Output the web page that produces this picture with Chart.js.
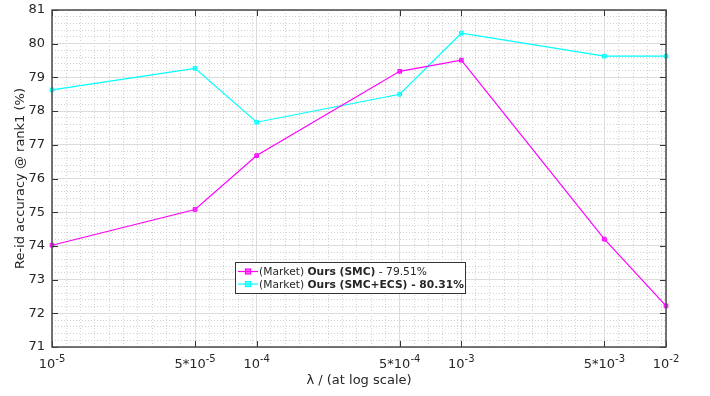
<!DOCTYPE html>
<html>
<head>
<meta charset="utf-8">
<script src="https://cdn.jsdelivr.net/npm/chart.js@4.4.1/dist/chart.umd.min.js"></script>
<style>
  html, body { margin: 0; padding: 0; background: #fff; }
  #wrap { width: 710px; height: 396px; }
</style>
</head>
<body>
<div id="wrap"><canvas id="chart"></canvas></div>
<script>
// lambda values (log axis) and rank-1 accuracy for both variants
const lambdaValues = [1e-5, 5e-5, 1e-4, 5e-4, 1e-3, 5e-3, 1e-2];
const smcAccuracy = [74.02, 75.08, 76.68, 79.18, 79.51, 74.20, 72.22];
const smcEcsAccuracy = [78.63, 79.27, 77.67, 78.50, 80.31, 79.63, 79.63];

// x tick labels: mantissa prefix + power of ten
const xTickMantissa = ['', '5*', '', '5*', '', '5*', ''];
const xTickExponent = ['-5', '-5', '-4', '-4', '-3', '-3', '-2'];

const yMin = 71, yMax = 81;

const FONT = '"DejaVu Sans", sans-serif';
const TEXT = '#262626';

const legendRows = [
  { color: '#ff00ff', parts: [['(Market) ', false], ['Ours (SMC)', true], [' - 79.51%', false]] },
  { color: '#00ffff', parts: [['(Market) ', false], ['Ours (SMC+ECS) - 80.31%', true]] }
];

function isMajorX(v) {
  return lambdaValues.some(m => Math.abs(Math.log10(v) - Math.log10(m)) < 1e-6);
}
function isMajorY(v) {
  return Math.abs(v - Math.round(v)) < 1e-6;
}

// minor grid: even steps in log space starting at each major tick
function buildXTicks() {
  const out = [];
  const step = 0.07;
  for (let i = 0; i < lambdaValues.length; i++) {
    out.push({ value: lambdaValues[i] });
    if (i === lambdaValues.length - 1) break;
    const a = Math.log10(lambdaValues[i]), b = Math.log10(lambdaValues[i + 1]);
    for (let l = a + step; l < b - 0.02; l += step) out.push({ value: Math.pow(10, l) });
  }
  return out;
}
function buildYTicks() {
  const out = [];
  for (let k = 0; k <= (yMax - yMin) * 5; k++) out.push({ value: Math.round((yMin + k * 0.2) * 10) / 10 });
  return out;
}

const matlabAxes = {
  id: 'matlabAxes',
  afterDatasetsDraw(chart) {
    const ctx = chart.ctx;
    const { left, right, top, bottom } = chart.chartArea;
    const xs = chart.scales.x, ys = chart.scales.y;
    ctx.save();

    // inward tick marks on all four sides
    ctx.strokeStyle = '#333';
    ctx.lineWidth = 1;
    ctx.beginPath();
    lambdaValues.forEach(v => {
      const px = Math.round(xs.getPixelForValue(v)) + 0.5;
      ctx.moveTo(px, bottom); ctx.lineTo(px, bottom - 6);
      ctx.moveTo(px, top); ctx.lineTo(px, top + 6);
    });
    for (let v = yMin; v <= yMax; v++) {
      const py = Math.round(ys.getPixelForValue(v)) + 0.5;
      ctx.moveTo(left, py); ctx.lineTo(left + 6, py);
      ctx.moveTo(right, py); ctx.lineTo(right - 6, py);
    }
    ctx.stroke();

    // box
    ctx.strokeStyle = '#4a4a4a';
    ctx.lineWidth = 1.5;
    ctx.strokeRect(left, top, right - left, bottom - top);

    // x tick labels with superscript exponents
    ctx.fillStyle = TEXT;
    ctx.textBaseline = 'alphabetic';
    lambdaValues.forEach((v, i) => {
      const px = xs.getPixelForValue(v);
      const base = xTickMantissa[i] + '10';
      ctx.font = '13px ' + FONT;
      const wb = ctx.measureText(base).width;
      ctx.font = '10px ' + FONT;
      const we = ctx.measureText(xTickExponent[i]).width;
      const x0 = px - (wb + we) / 2;
      ctx.font = '13px ' + FONT;
      ctx.textAlign = 'left';
      ctx.fillText(base, x0, bottom + 21);
      ctx.font = '10px ' + FONT;
      ctx.fillText(xTickExponent[i], x0 + wb, bottom + 15);
    });

    // axis titles
    ctx.font = '13px ' + FONT;
    ctx.textAlign = 'center';
    ctx.textBaseline = 'middle';
    ctx.fillText('\u03bb / (at log scale)', (left + right) / 2, bottom + 34);
    ctx.save();
    ctx.translate(21, (top + bottom) / 2);
    ctx.rotate(-Math.PI / 2);
    ctx.fillText('Re-id accuracy @ rank1 (%)', 0, 0);
    ctx.restore();

    // legend box
    const bx = 235, by = 262, bw = 230, bh = 31;
    ctx.fillStyle = '#fff';
    ctx.fillRect(bx, by, bw, bh);
    ctx.strokeStyle = '#333';
    ctx.lineWidth = 1;
    ctx.strokeRect(bx + 0.5, by + 0.5, bw, bh);
    legendRows.forEach((row, r) => {
      const cy = by + 9.5 + r * 12.6;
      ctx.strokeStyle = row.color;
      ctx.lineWidth = 1.2;
      ctx.beginPath();
      ctx.moveTo(bx + 3, cy); ctx.lineTo(bx + 23, cy);
      ctx.stroke();
      ctx.fillStyle = row.color;
      ctx.globalAlpha = 0.6;
      ctx.fillRect(bx + 10.5, cy - 2.5, 5, 5);
      ctx.globalAlpha = 1;
      ctx.strokeRect(bx + 10.5, cy - 2.5, 5, 5);
      let tx = bx + 24;
      ctx.fillStyle = TEXT;
      ctx.textAlign = 'left';
      ctx.textBaseline = 'middle';
      row.parts.forEach(([s, bold]) => {
        ctx.font = (bold ? 'bold ' : '') + '10.7px ' + FONT;
        ctx.fillText(s, tx, cy + 1);
        tx += ctx.measureText(s).width;
      });
    });
    ctx.restore();
  }
};

const lineStyle = (label, data, color) => ({
  label: label,
  data: data,
  borderColor: color,
  backgroundColor: color + '99',
  borderWidth: 1.2,
  pointStyle: 'rect',
  pointRadius: 2.6,
  pointBorderWidth: 1,
  pointBorderColor: color,
  tension: 0,
  clip: false
});

new Chart(document.getElementById('chart'), {
  type: 'line',
  data: {
    datasets: [
      lineStyle('(Market) Ours (SMC) - 79.51%', lambdaValues.map((x, i) => ({ x: x, y: smcAccuracy[i] })), '#ff00ff'),
      lineStyle('(Market) Ours (SMC+ECS) - 80.31%', lambdaValues.map((x, i) => ({ x: x, y: smcEcsAccuracy[i] })), '#00ffff')
    ]
  },
  options: {
    responsive: true,
    maintainAspectRatio: false,
    animation: false,
    layout: { padding: { top: 10, right: 44, left: 0, bottom: 0 } },
    plugins: { legend: { display: false }, tooltip: { enabled: false } },
    scales: {
      x: {
        type: 'logarithmic',
        min: 1e-5,
        max: 1e-2,
        afterBuildTicks: s => { s.ticks = buildXTicks(); },
        afterFit: s => { s.height = 49; s.paddingLeft = 0; s.paddingRight = 0; },
        ticks: { display: false },
        grid: {
          drawTicks: false,
          color: c => isMajorX(c.tick.value) ? '#dcdcdc' : '#d2d2d2',
          lineWidth: 1
        },
        border: {
          display: false,
          dash: c => (c.tick && isMajorX(c.tick.value)) ? [] : [1, 2]
        }
      },
      y: {
        type: 'linear',
        min: yMin,
        max: yMax,
        afterBuildTicks: s => { s.ticks = buildYTicks(); },
        afterFit: s => { s.width = 52; s.paddingTop = 0; s.paddingBottom = 0; },
        ticks: {
          autoSkip: false,
          padding: 7,
          color: TEXT,
          font: { family: FONT, size: 13 },
          callback: v => isMajorY(v) ? String(Math.round(v)) : ''
        },
        grid: {
          drawTicks: false,
          color: c => isMajorY(c.tick.value) ? '#dcdcdc' : '#d2d2d2',
          lineWidth: 1
        },
        border: {
          display: false,
          dash: c => (c.tick && isMajorY(c.tick.value)) ? [] : [1, 2]
        }
      }
    }
  },
  plugins: [matlabAxes]
});
</script>
</body>
</html>
